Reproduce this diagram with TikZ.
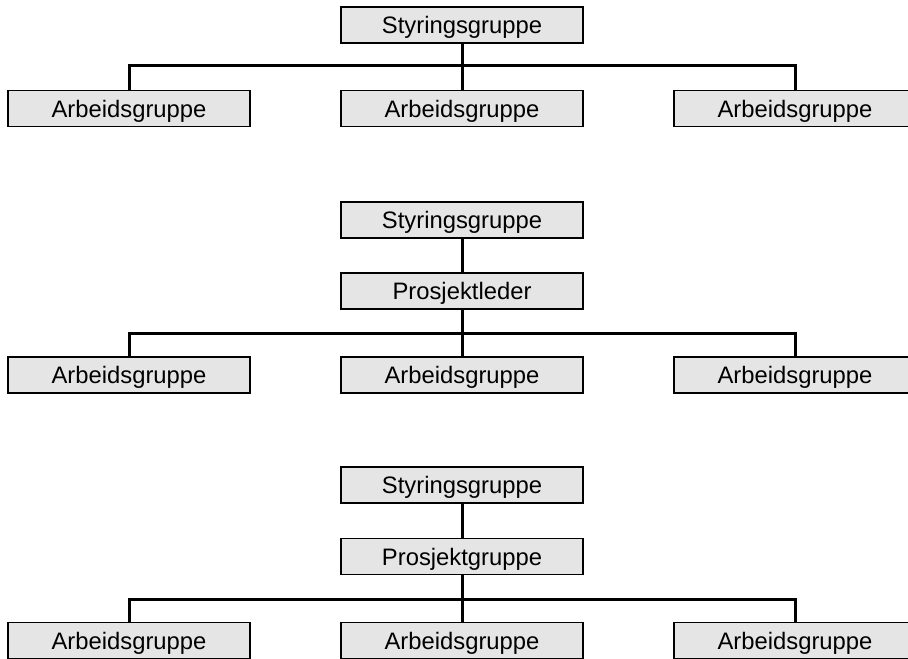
\documentclass[tikz,border=0pt]{standalone}
\usepackage{fontspec}
\setmainfont{Liberation Sans}
\usetikzlibrary{positioning}

\begin{document}
\begin{tikzpicture}[
    x=0.5pt, y=-0.5pt,
    node distance=45.5pt,
    unit/.style={draw, line width=0.7pt, fill=black!10, inner sep=0pt,
                 outer sep=0pt, minimum width=121pt, minimum height=18pt,
                 text height=8.5pt, text depth=0pt,
                 font=\fontsize{11.9}{14}\selectfont},
    link/.style={line width=1.5pt},
]
\useasboundingbox (0,0) rectangle (908,658);
\clip (0,0) rectangle (908,658);

% steering group only
\node[unit] (sA) at (462,25) {Styringsgruppe};
\node[unit] (wA2) at (462,108.5) {Arbeidsgruppe};
\node[unit, left=of wA2] (wA1) {Arbeidsgruppe};
\node[unit, right=of wA2] (wA3) {Arbeidsgruppe};
\coordinate (busA) at (462,66);
\draw[link] (sA) -- (wA2);
\draw[link] (wA1.north) |- (busA);
\draw[link] (wA3.north) |- (busA);

% with project leader
\node[unit] (sB) at (462,220) {Styringsgruppe};
\node[unit] (pB) at (462,291) {Prosjektleder};
\node[unit] (wB2) at (462,375) {Arbeidsgruppe};
\node[unit, left=of wB2] (wB1) {Arbeidsgruppe};
\node[unit, right=of wB2] (wB3) {Arbeidsgruppe};
\coordinate (busB) at (462,333);
\draw[link] (sB) -- (pB);
\draw[link] (pB) -- (wB2);
\draw[link] (wB1.north) |- (busB);
\draw[link] (wB3.north) |- (busB);

% with project group
\node[unit] (sC) at (462,485) {Styringsgruppe};
\node[unit] (pC) at (462,556.5) {Prosjektgruppe};
\node[unit] (wC2) at (462,640.5) {Arbeidsgruppe};
\node[unit, left=of wC2] (wC1) {Arbeidsgruppe};
\node[unit, right=of wC2] (wC3) {Arbeidsgruppe};
\coordinate (busC) at (462,599);
\draw[link] (sC) -- (pC);
\draw[link] (pC) -- (wC2);
\draw[link] (wC1.north) |- (busC);
\draw[link] (wC3.north) |- (busC);
\end{tikzpicture}
\end{document}
